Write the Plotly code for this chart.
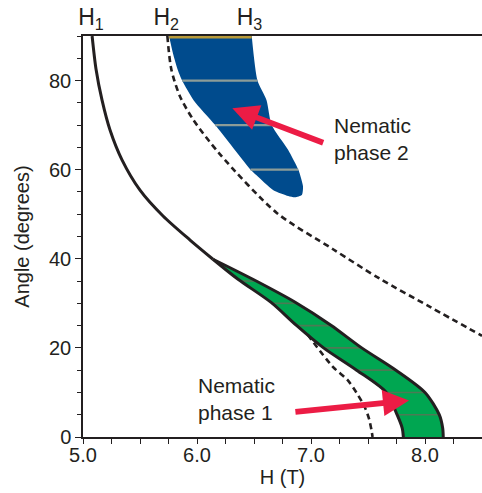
import numpy as np
import plotly.graph_objects as go

# ---------------- data (H in tesla, angle in degrees) ----------------
# H1 boundary (solid), from 90 deg down to the kink
h1_H = [5.08, 5.114, 5.167, 5.237, 5.342, 5.50, 5.702, 5.939, 6.14]
h1_A = [90, 82.6, 75.6, 68.9, 62.2, 55.4, 49.6, 44.2, 39.9]

# Nematic phase 1 region: lower-left and upper-right boundaries
p1_left_H = [6.14, 6.36, 6.65, 6.87, 7.11, 7.40, 7.66, 7.755, 7.80, 7.81]
p1_left_A = [39.9, 35.4, 30.2, 25.1, 20.0, 15.0, 10.0, 5.0, 2.0, 0.0]
p1_right_H = [6.14, 6.49, 6.865, 7.175, 7.445, 7.745, 8.0, 8.125, 8.155, 8.16]
p1_right_A = [39.9, 35.4, 30.2, 25.1, 20.0, 15.0, 10.0, 5.0, 2.0, 0.0]

# H2 boundary (upper dashed)
h2_H = [5.74, 5.775, 5.85, 5.965, 6.20, 6.70, 7.19, 7.605, 8.044, 8.5]
h2_A = [90, 82.5, 76.5, 71.3, 63.5, 50.3, 42.2, 35.5, 29.2, 22.7]

# lower dashed boundary
low_H = [6.97, 7.19, 7.32, 7.40, 7.47, 7.51, 7.53, 7.54]
low_A = [23.0, 15.8, 12.8, 9.9, 6.8, 4.0, 1.6, 0.0]

# Nematic phase 2 region (left edge top->tip, right edge tip->top)
p2_left_H = [5.755, 5.79, 5.83, 5.87, 5.97, 6.16, 6.47, 6.52, 6.67, 6.80, 6.86]
p2_left_A = [90, 86, 82.5, 80, 75.6, 70, 60, 58.8, 55.4, 54.1, 53.8]
p2_right_H = [6.86, 6.92, 6.93, 6.89, 6.80, 6.655, 6.61, 6.53, 6.48]
p2_right_A = [53.8, 54.3, 56.2, 59.9, 64.4, 70.0, 75.6, 80.0, 90.0]

# tie-line stripes
p1_stripe_A = [5, 10, 15, 20, 25, 30, 35]
p2_stripe_A = [60, 70, 80]
p2_top_A = [90]

# top-axis field labels
h_marks = [5.07, 5.73, 6.46]
h_labels = ["H<sub>1</sub>", "H<sub>2</sub>", "H<sub>3</sub>"]

x_ticks = [5.0, 6.0, 7.0, 8.0]
x_ticklabels = ["5.0", "6.0", "7.0", "8.0"]
y_ticks = [0, 20, 40, 60, 80]

# annotation anchors (H, angle)
arrow2_tail = (7.12, 65.9)
arrow2_head = (6.31, 73.8)
arrow1_tail = (6.85, 5.6)
arrow1_head = (7.86, 8.2)
label2_pos = (7.18, 66.8)
label1_pos = (5.99, 8.6)

# ---------------- styles ----------------
INK = "#231f20"
BLUE = "#004b8d"
GREEN = "#00a651"
RED = "#ec1c45"
FONT = "Liberation Sans, Arial, Helvetica, sans-serif"


def interp_edge(Hs, As, a):
    A = np.array(As)[::-1]
    H = np.array(Hs)[::-1]
    return float(np.interp(a, A, H))


fig = go.Figure()

# phase 2 blue region
fig.add_trace(go.Scatter(
    x=p2_left_H + p2_right_H[1:], y=p2_left_A + p2_right_A[1:],
    fill="toself", fillcolor=BLUE, mode="lines",
    line=dict(width=0, color=BLUE, shape="spline", smoothing=0.6),
    hoverinfo="skip"))

# blue tie lines
for a in p2_stripe_A:
    fig.add_trace(go.Scatter(
        x=[interp_edge(p2_left_H, p2_left_A, a), interp_edge(p2_right_H[::-1], p2_right_A[::-1], a)],
        y=[a, a], mode="lines", line=dict(color="#8c9c98", width=2.2), hoverinfo="skip"))
for a in p2_top_A:
    fig.add_trace(go.Scatter(
        x=[interp_edge(p2_left_H, p2_left_A, a), interp_edge(p2_right_H[::-1], p2_right_A[::-1], a)],
        y=[a, a], mode="lines", line=dict(color="#b89a3a", width=5), hoverinfo="skip"))

# upper dashed line
fig.add_trace(go.Scatter(
    x=h2_H, y=h2_A, mode="lines",
    line=dict(color=INK, width=2.6, dash="6px,4px", shape="spline", smoothing=0.8),
    hoverinfo="skip"))

# green region
fig.add_trace(go.Scatter(
    x=p1_left_H + p1_right_H[::-1], y=p1_left_A + p1_right_A[::-1],
    fill="toself", fillcolor=GREEN, mode="lines",
    line=dict(width=0, color=GREEN), hoverinfo="skip"))

for a in p1_stripe_A:
    fig.add_trace(go.Scatter(
        x=[interp_edge(p1_left_H, p1_left_A, a), interp_edge(p1_right_H, p1_right_A, a)],
        y=[a, a], mode="lines", line=dict(color="#4d7a55", width=1.6), hoverinfo="skip"))

# lower dashed line
fig.add_trace(go.Scatter(
    x=low_H, y=low_A, mode="lines",
    line=dict(color=INK, width=2.6, dash="6px,4px", shape="spline", smoothing=0.8),
    hoverinfo="skip"))

# solid boundaries
for xs, ys in [(h1_H, h1_A), (p1_left_H, p1_left_A), (p1_right_H, p1_right_A)]:
    fig.add_trace(go.Scatter(
        x=xs, y=ys, mode="lines",
        line=dict(color=INK, width=3, shape="spline", smoothing=0.8),
        hoverinfo="skip"))

# invisible trace to carry the top axis
fig.add_trace(go.Scatter(x=h_marks, y=[90] * 3, xaxis="x2", mode="markers",
                         marker=dict(opacity=0), hoverinfo="skip"))

annotations = []
for tail, head in [(arrow2_tail, arrow2_head), (arrow1_tail, arrow1_head)]:
    annotations.append(dict(
        x=head[0], y=head[1], ax=tail[0], ay=tail[1], xref="x", yref="y",
        axref="x", ayref="y", showarrow=True, arrowhead=2, arrowsize=0.9,
        arrowwidth=5.8, arrowcolor=RED, text="", standoff=0))
for pos, txt in [(label2_pos, "Nematic<br>phase 2"), (label1_pos, "Nematic<br>phase 1")]:
    annotations.append(dict(
        x=pos[0], y=pos[1], xref="x", yref="y", text=txt, showarrow=False,
        xanchor="left", yanchor="middle", align="left",
        font=dict(size=21, color=INK, family=FONT)))

fig.update_layout(
    width=482, height=493,
    margin=dict(l=83, r=0, t=36, b=56),
    paper_bgcolor="white", plot_bgcolor="white",
    showlegend=False,
    font=dict(family=FONT, size=20, color=INK),
    annotations=annotations,
    xaxis=dict(
        range=[5.0, 8.5], tickvals=x_ticks, ticktext=x_ticklabels,
        ticks="outside", ticklen=5, tickwidth=1.3, tickcolor=INK,
        ticklabelstandoff=-6,
        minor=dict(dtick=0.25, ticks="outside", ticklen=5, tickwidth=1.3, tickcolor=INK),
        showline=True, linecolor=INK, linewidth=1.5, showgrid=False, zeroline=False,
        title=dict(text="H (T)", standoff=4, font=dict(size=20)),
        tickfont=dict(size=20)),
    xaxis2=dict(
        range=[5.0, 8.5], overlaying="x", side="top", tickvals=h_marks,
        ticktext=h_labels, ticks="", showline=True, linecolor=INK, linewidth=1.5,
        showgrid=False, zeroline=False, tickfont=dict(size=23)),
    yaxis=dict(
        range=[0, 90], tickvals=y_ticks, ticks="outside", ticklen=6, tickwidth=1.3,
        tickcolor=INK,
        minor=dict(dtick=5, ticks="outside", ticklen=4, tickwidth=1.3, tickcolor=INK),
        showline=True, linecolor=INK, linewidth=1.5, showgrid=False, zeroline=False,
        title=dict(text="Angle (degrees)", standoff=14, font=dict(size=20)),
        tickfont=dict(size=20)),
)

fig.write_html("out.html", config={"displayModeBar": False},
               post_script="document.body.style.margin='0px';document.body.style.overflow='hidden';")
